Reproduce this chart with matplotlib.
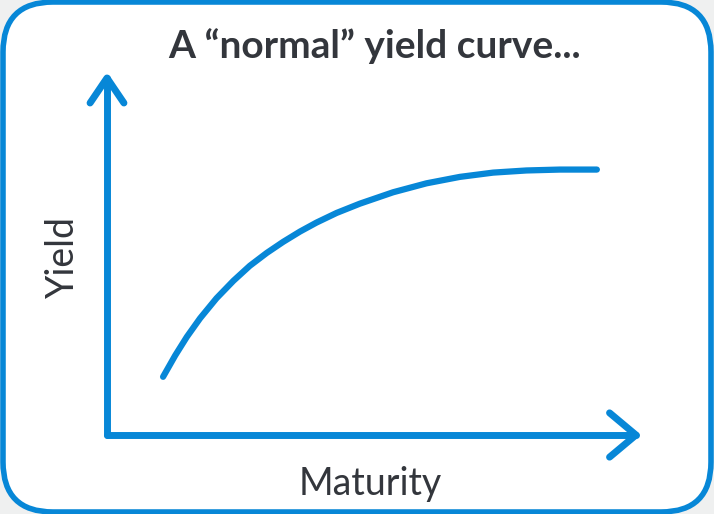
import matplotlib
matplotlib.use("Agg")
import matplotlib.pyplot as plt
from matplotlib.patches import FancyBboxPatch

# Data (abstract units)
maturity = [1.06, 1.29, 1.51, 1.76, 2.07, 2.39, 2.70, 3.02, 3.33, 3.65,
            3.96, 4.34, 4.78, 5.41, 6.04, 6.67, 7.30, 7.93, 8.56, 9.26]
yield_vals = [1.63, 2.23, 2.75, 3.27, 3.83, 4.32, 4.74, 5.10, 5.41, 5.70,
              5.95, 6.22, 6.48, 6.80, 7.05, 7.23, 7.35, 7.41, 7.435, 7.435]
title = "A \u201cnormal\u201d yield curve..."
xlabel = "Maturity"
ylabel = "Yield"

BLUE = "#0787d7"
TEXT = "#33363c"
W, H = 714, 514

fig = plt.figure(figsize=(W / 100, H / 100), dpi=100)
fig.patch.set_facecolor("#eff0f0")

# background frame axes in pixel units
bg = fig.add_axes([0, 0, 1, 1])
bg.set_xlim(0, W)
bg.set_ylim(0, H)
bg.axis("off")
box = FancyBboxPatch((3, 2), W - 6, H - 4,
                     boxstyle="round,pad=0,rounding_size=50",
                     facecolor="white", edgecolor=BLUE, linewidth=4)
bg.add_patch(box)
bg.text(375, H - 46, title, ha="center", va="center", fontsize=28,
        fontweight="bold", color=TEXT, family=["Lato", "DejaVu Sans"])
bg.text(370, H - 484, xlabel, ha="center", va="center", fontsize=27,
        color=TEXT, family=["Lato", "DejaVu Sans"])
bg.text(63, H - 257, ylabel, ha="center", va="center", fontsize=27,
        rotation=90, color=TEXT, family=["Lato", "DejaVu Sans"])

# chart axes: origin at (107,435) pixel, top 78, right 636
left, right, top, bottom = 107, 636, 78, 435
ax = fig.add_axes([left / W, (H - bottom) / H, (right - left) / W, (bottom - top) / H])
ax.set_xlim(0, 10)
ax.set_ylim(0, 10)
ax.axis("off")
ax.patch.set_alpha(0)

lw = 5
ax.plot([0, 0], [0, 10], color=BLUE, lw=lw, solid_capstyle="round", clip_on=False)
ax.plot([0, 10], [0, 0], color=BLUE, lw=lw, solid_capstyle="round", clip_on=False)
ax.plot([-0.32, 0, 0.32], [9.3, 10, 9.3], color=BLUE, lw=lw,
        solid_capstyle="round", solid_joinstyle="round", clip_on=False)
ax.plot([9.5, 10, 9.5], [0.62, 0, -0.62], color=BLUE, lw=lw,
        solid_capstyle="round", solid_joinstyle="round", clip_on=False)

ax.plot(maturity, yield_vals, color=BLUE, lw=4.5, solid_capstyle="round",
        solid_joinstyle="round", clip_on=False)

fig.savefig("out.png", dpi=100, facecolor=fig.get_facecolor())
